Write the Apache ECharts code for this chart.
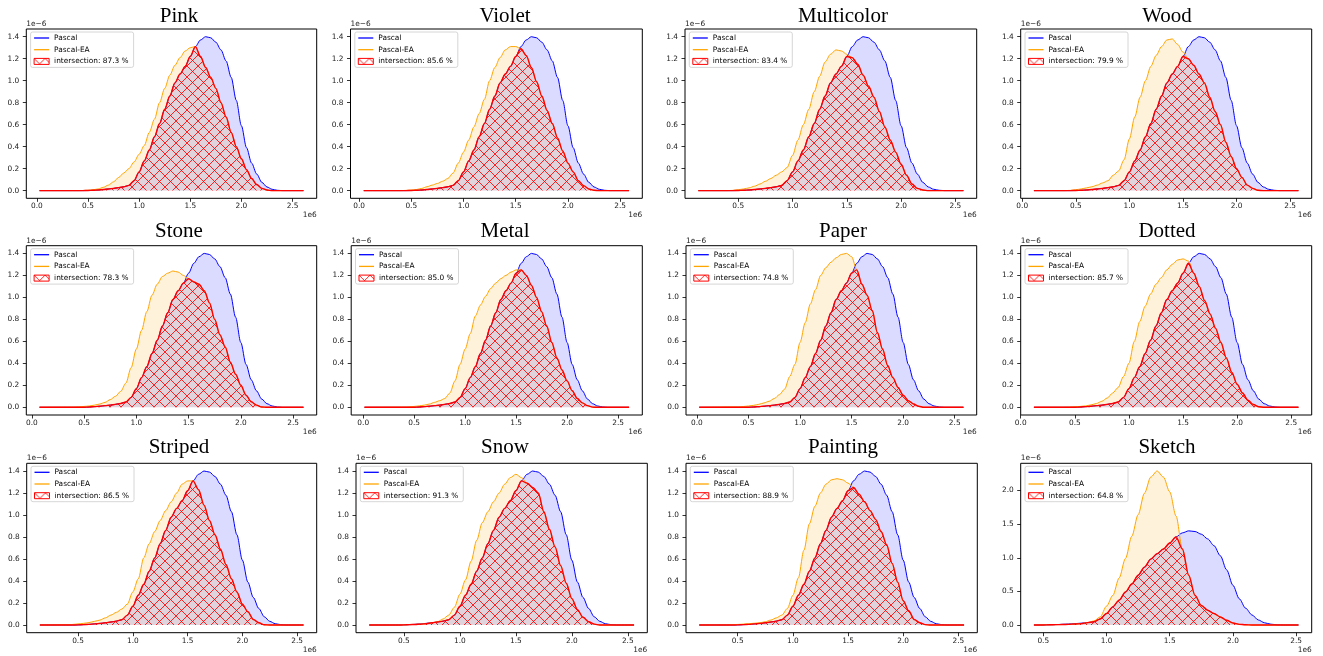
<!DOCTYPE html>
<html><head><meta charset="utf-8">
<script src="https://cdn.jsdelivr.net/npm/echarts@6/dist/echarts.min.js"></script>
<style>html,body{margin:0;padding:0;background:#fff}#c{width:1323px;height:656px}</style>
</head><body><div id="c"></div><script>
// ---- data (x in units of 1e6, density in units of 1e-6) ----
const titles = ['Pink','Violet','Multicolor','Wood','Stone','Metal','Paper','Dotted','Striped','Snow','Painting','Sketch'];
const overlap = ['87.3','85.6','83.4','79.9','78.3','85.0','74.8','85.7','86.5','91.3','88.9','64.8'];
const xStart = [0.026,0.045,0.132,0.109,0.073,0.012,0.022,0.122,0.152,0.19,0.151,0.426];
const xEnd   = [2.607,2.585,2.574,2.578,2.600,2.608,2.585,2.567,2.558,2.556,2.552,2.518];
const xGrid = [0.40,0.45,0.50,0.55,0.60,0.65,0.70,0.75,0.80,0.85,0.90,0.95,1.00,1.05,1.10,1.15,1.20,1.25,1.30,1.35,1.40,1.45,1.50,1.55,1.60,1.65,1.70,1.75,1.80,1.85,1.90,1.95,2.00,2.05,2.10,2.15,2.20,2.25,2.30,2.35,2.40];
const pascal = [0,0,0.001,0.003,0.006,0.01,0.015,0.02,0.027,0.035,0.048,0.09,0.17,0.27,0.37,0.49,0.61,0.74,0.86,0.98,1.06,1.13,1.22,1.31,1.37,1.40,1.39,1.35,1.28,1.18,1.03,0.82,0.59,0.39,0.25,0.15,0.075,0.033,0.012,0.003,0];
const eaPink = [0,0.001,0.003,0.008,0.015,0.03,0.05,0.08,0.12,0.16,0.20,0.26,0.33,0.41,0.53,0.65,0.80,0.93,1.05,1.14,1.21,1.27,1.30,1.31,1.22,1.12,1.03,0.93,0.80,0.67,0.53,0.40,0.29,0.19,0.11,0.055,0.02,0.005,0,0,0];
const eaViolet = [0,0.002,0.005,0.01,0.02,0.035,0.05,0.065,0.085,0.11,0.16,0.25,0.35,0.46,0.58,0.70,0.83,1.0,1.12,1.21,1.28,1.31,1.31,1.29,1.23,1.12,0.99,0.86,0.73,0.61,0.48,0.36,0.25,0.17,0.09,0.045,0.015,0.003,0,0,0];
const eaMulticolor = [0,0.002,0.008,0.015,0.025,0.04,0.06,0.085,0.11,0.14,0.17,0.21,0.32,0.46,0.60,0.74,0.90,1.04,1.17,1.24,1.28,1.27,1.24,1.21,1.15,1.05,0.95,0.85,0.72,0.58,0.46,0.35,0.24,0.14,0.06,0.02,0.005,0,0,0,0];
const eaWood = [0,0.002,0.008,0.015,0.025,0.035,0.05,0.07,0.09,0.14,0.18,0.28,0.47,0.67,0.85,1.0,1.13,1.23,1.31,1.37,1.38,1.33,1.26,1.20,1.14,1.06,0.98,0.85,0.72,0.60,0.44,0.31,0.20,0.12,0.05,0.02,0.003,0,0,0,0];
const eaStone = [0.002,0.004,0.008,0.012,0.02,0.03,0.045,0.07,0.10,0.145,0.22,0.36,0.53,0.70,0.87,1.02,1.12,1.19,1.22,1.24,1.23,1.20,1.17,1.14,1.12,1.06,0.95,0.80,0.66,0.55,0.41,0.30,0.20,0.11,0.05,0.02,0.003,0,0,0,0];
const eaMetal = [0.002,0.004,0.008,0.013,0.02,0.03,0.045,0.06,0.08,0.13,0.24,0.39,0.53,0.67,0.83,0.93,1.01,1.08,1.13,1.17,1.20,1.23,1.25,1.25,1.20,1.11,1.00,0.87,0.74,0.59,0.45,0.34,0.24,0.15,0.08,0.04,0.015,0.002,0,0,0];
const eaPaper = [0.004,0.007,0.012,0.018,0.027,0.04,0.055,0.08,0.115,0.165,0.28,0.39,0.59,0.77,0.94,1.07,1.20,1.27,1.32,1.36,1.39,1.40,1.37,1.25,1.12,1.02,0.88,0.68,0.53,0.38,0.27,0.18,0.11,0.06,0.03,0.01,0,0,0,0,0];
const eaDotted = [0.001,0.002,0.005,0.008,0.013,0.022,0.035,0.055,0.085,0.13,0.18,0.28,0.40,0.60,0.78,0.92,1.03,1.12,1.18,1.25,1.30,1.34,1.35,1.33,1.22,1.10,0.97,0.85,0.72,0.59,0.45,0.32,0.21,0.13,0.065,0.025,0.005,0,0,0,0];
const eaStriped = [0.002,0.005,0.01,0.015,0.022,0.033,0.045,0.065,0.09,0.115,0.145,0.19,0.30,0.42,0.61,0.74,0.85,0.95,1.04,1.12,1.20,1.28,1.31,1.31,1.23,1.09,0.95,0.82,0.69,0.55,0.42,0.30,0.19,0.12,0.05,0.02,0.002,0,0,0,0];
const eaSnow = [0,0,0.001,0.003,0.005,0.008,0.012,0.02,0.03,0.055,0.09,0.16,0.28,0.41,0.58,0.77,0.93,1.03,1.12,1.20,1.28,1.34,1.37,1.34,1.29,1.25,1.20,1.03,0.87,0.71,0.54,0.38,0.24,0.14,0.07,0.03,0.008,0,0,0,0];
const eaPainting = [0.001,0.003,0.005,0.008,0.012,0.016,0.02,0.03,0.045,0.065,0.09,0.15,0.27,0.43,0.68,0.92,1.08,1.20,1.28,1.32,1.33,1.32,1.29,1.25,1.19,1.12,1.04,0.96,0.85,0.73,0.56,0.39,0.22,0.13,0.05,0.02,0.003,0,0,0,0];
const eaSketch = [0,0,0.002,0.003,0.005,0.007,0.01,0.015,0.02,0.035,0.06,0.12,0.28,0.44,0.70,0.99,1.32,1.64,1.96,2.20,2.29,2.20,1.98,1.62,1.13,0.74,0.44,0.29,0.22,0.17,0.12,0.07,0.03,0.01,0.003,0,0,0,0,0,0];
const eaAll = [eaPink,eaViolet,eaMulticolor,eaWood,eaStone,eaMetal,eaPaper,eaDotted,eaStriped,eaSnow,eaPainting,eaSketch];
const xTickLabels = [0.0,0.5,1.0,1.5,2.0,2.5];
const yTickLabels = [0.0,0.2,0.4,0.6,0.8,1.0,1.2,1.4];
const yTickLabelsWide = [0.0,0.5,1.0,1.5,2.0];

// ---- layout (pixel frames of each axes: left, top, right, bottom) ----
const frames = [
  [26.3,29,316.7,198.3],[350.5,29,642.3,198.3],[685,29,976.7,198.3],[1020.7,29,1311.7,198.3],
  [26.3,245.7,316.7,415],[351.2,245.7,642.3,415],[686,245.7,976.7,415],[1020.7,245.7,1311.7,415],
  [26.7,463.3,316.7,632.7],[356,463.3,647.3,632.7],[686,463.3,977.3,632.7],[1020.7,463.3,1311.7,632.7]
];
const titleX = [179,505,843,1167];
const titleY = [16.7,231.2,447.2];

const hatch = document.createElement('canvas');
const hs = 11; hatch.width = hs; hatch.height = hs;
const hc = hatch.getContext('2d');
hc.strokeStyle = 'rgba(255,0,0,0.95)'; hc.lineWidth = 0.9;
hc.beginPath(); hc.moveTo(-2,-2); hc.lineTo(hs+2,hs+2); hc.moveTo(-2,hs+2); hc.lineTo(hs+2,-2); hc.stroke();
const hatchFill = {image: hatch, repeat: 'repeat'};
const lineIcon = 'path://M0,0H150V13H0Z';

function pts(vals, s, e) {
  const out = [[s, 0]];
  xGrid.forEach((x, k) => { if (x > s && x < e) out.push([x, vals[k]]); });
  out.push([e, 0]);
  return out;
}

const grid = [], xAxis = [], yAxis = [], series = [], legend = [], graphic = [];
const fnt = 'DejaVu Sans';
const SM = 0.3;
titles.forEach((t, i) => {
  const f = frames[i];
  const ea = eaAll[i];
  const inter = ea.map((v, k) => Math.min(v, pascal[k]));
  const span = xEnd[i] - xStart[i];
  const M = Math.max(Math.max(...ea), Math.max(...pascal));
  const yt = M > 2 ? yTickLabelsWide : yTickLabels;
  grid.push({left: f[0], top: f[1], width: f[2]-f[0], height: f[3]-f[1], show: true,
    borderColor: '#000', borderWidth: 1, backgroundColor: 'transparent', containLabel: false, outerBoundsMode: 'none'});
  const xmin = xStart[i] - 0.05*span, xmax = xEnd[i] + 0.05*span;
  const xt = xTickLabels.filter(v => v >= xmin && v <= xmax);
  xAxis.push({type: 'value', gridIndex: i, min: xmin, max: xmax, position: 'bottom',
    axisLine: {show: false, onZero: false}, splitLine: {show: false}, minorTick: {show: false},
    axisTick: {show: true, inside: false, length: 3.5, customValues: xt, lineStyle: {color: '#000', width: 0.8}},
    axisLabel: {customValues: xt, formatter: v => v.toFixed(1), fontSize: 7.4, color: '#222', margin: 4.5, fontFamily: fnt}});
  yAxis.push({type: 'value', gridIndex: i, min: -0.05*M, max: 1.05*M, position: 'left',
    axisLine: {show: false, onZero: false}, splitLine: {show: false}, minorTick: {show: false},
    axisTick: {show: true, inside: false, length: 3.5, customValues: yt, lineStyle: {color: '#000', width: 0.8}},
    axisLabel: {customValues: yt, formatter: v => v.toFixed(1), fontSize: 7.4, color: '#222', margin: 7, fontFamily: fnt}});
  const iname = 'intersection: ' + overlap[i] + ' %';
  series.push({type: 'line', name: 'Pascal', xAxisIndex: i, yAxisIndex: i, symbol: 'none', showSymbol: false, smooth: SM, smoothMonotone: 'x',
    data: pts(pascal, xStart[i], xEnd[i]), lineStyle: {color: '#0000ff', width: 1}, itemStyle: {color: '#0000ff'},
    areaStyle: {color: 'rgba(0,0,255,0.2)'}, z: 2});
  series.push({type: 'line', name: 'Pascal-EA', xAxisIndex: i, yAxisIndex: i, symbol: 'none', showSymbol: false, smooth: SM, smoothMonotone: 'x',
    data: pts(ea, xStart[i], xEnd[i]), lineStyle: {color: '#ffa500', width: 1}, itemStyle: {color: '#ffa500'},
    areaStyle: {color: 'rgba(255,165,0,0.2)'}, z: 3});
  series.push({type: 'line', name: iname, xAxisIndex: i, yAxisIndex: i, symbol: 'none', showSymbol: false, smooth: SM, smoothMonotone: 'x',
    data: pts(inter, xStart[i], xEnd[i]), lineStyle: {color: '#ff0000', width: 1.4}, itemStyle: {color: '#ff0000'},
    areaStyle: {color: hatchFill, opacity: 1}, z: 4});
  legend.push({left: f[0]+4.3, top: f[1]+3, orient: 'vertical', itemWidth: 15, itemHeight: 6, itemGap: 2.7,
    padding: [1.5, 5, 1.5, 3], backgroundColor: '#fff', borderColor: '#cccccc', borderWidth: 0.8, borderRadius: 2,
    selectedMode: false, symbolKeepAspect: true, textStyle: {fontSize: 7.4, color: '#000', fontFamily: fnt, lineHeight: 9},
    data: [{name: 'Pascal', icon: lineIcon, itemStyle: {color: '#0000ff', borderWidth: 0}},
           {name: 'Pascal-EA', icon: lineIcon, itemStyle: {color: '#ffa500', borderWidth: 0}},
           {name: iname, icon: 'rect', itemStyle: {color: hatchFill, borderColor: '#ff0000', borderWidth: 1}}]});
  graphic.push({type: 'text', x: titleX[i % 4], y: titleY[Math.floor(i / 4)], style: {text: t, fontSize: 21, fontFamily: 'Liberation Serif', fill: '#000', align: 'center', verticalAlign: 'middle'}});
  graphic.push({type: 'text', x: f[0], y: f[1] - 1.5, style: {text: '1e\u22126', fontSize: 7.4, fontFamily: fnt, fill: '#222', align: 'left', verticalAlign: 'bottom'}});
  graphic.push({type: 'text', x: f[2], y: f[3] + 13.5, style: {text: '1e6', fontSize: 7.4, fontFamily: fnt, fill: '#222', align: 'right', verticalAlign: 'top'}});
});

const chart = echarts.init(document.getElementById('c'), null, {renderer: 'canvas'});
chart.setOption({animation: false, backgroundColor: '#fff', grid, xAxis, yAxis, series, legend, graphic});
</script></body></html>
